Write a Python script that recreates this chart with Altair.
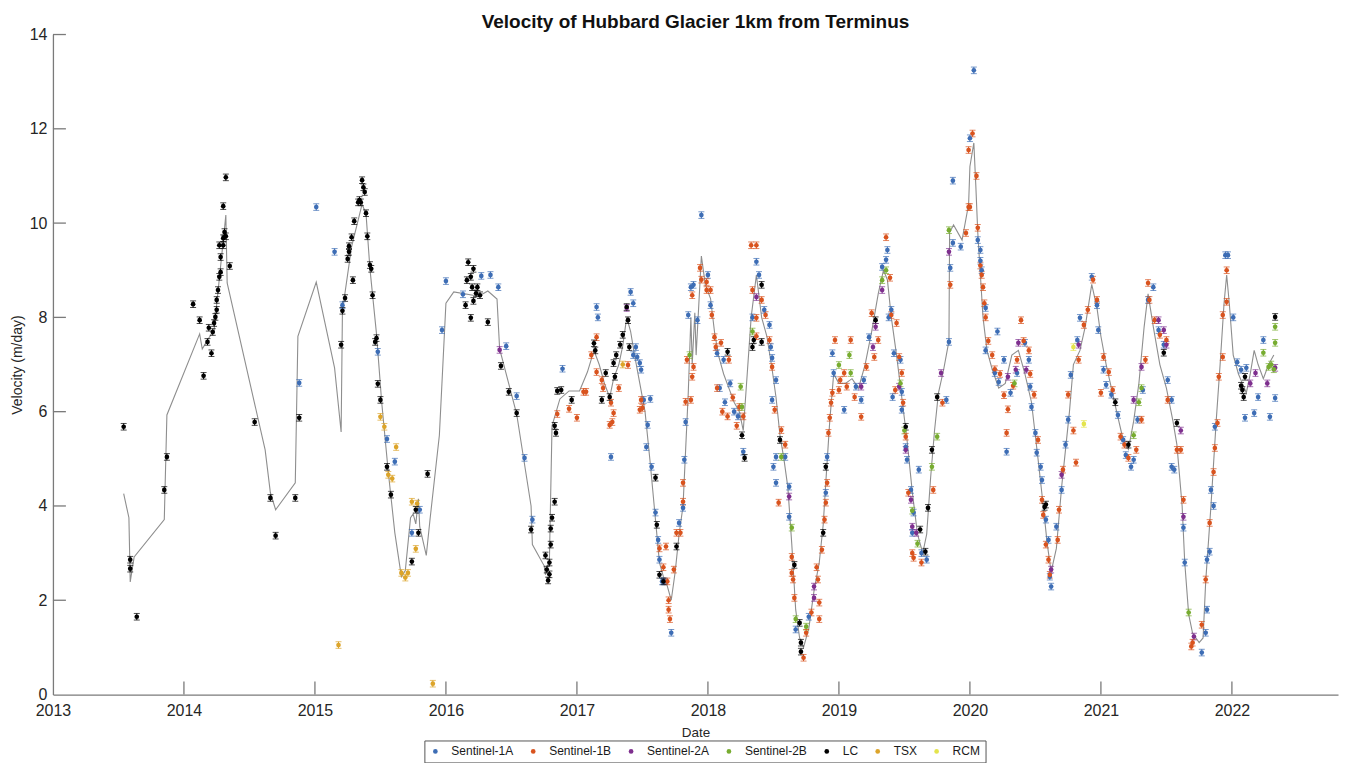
import altair as alt
import pandas as pd

# ---------------- data: (decimal year, velocity m/day) ----------------
SERIES = ["Sentinel-1A", "Sentinel-1B", "Sentinel-2A", "Sentinel-2B", "LC", "TSX", "RCM"]
COLORS = ["#3d6db5", "#d9531e", "#7e2f8e", "#77ac30", "#000000", "#dca42a", "#e4e44c"]
ERR = 0.07  # half-height of the error bars (m/day)

YEARS = list(range(2013, 2023))
Y_TICKS = list(range(0, 15, 2))

lc = [
    (2013.54, 5.68), (2013.59, 2.86), (2013.59, 2.67), (2013.64, 1.65), (2013.85, 4.34), (2013.87, 5.04),
    (2014.07, 8.28), (2014.12, 7.94), (2014.15, 6.76), (2014.18, 7.48), (2014.19, 7.78), (2014.21, 7.24),
    (2014.22, 7.69), (2014.23, 7.88), (2014.24, 8.01), (2014.25, 8.16), (2014.25, 8.37), (2014.26, 8.58),
    (2014.27, 8.86), (2014.28, 8.96), (2014.28, 9.28), (2014.27, 9.53), (2014.30, 9.53), (2014.30, 9.68),
    (2014.31, 9.81), (2014.32, 9.72), (2014.30, 10.36), (2014.32, 10.97), (2014.35, 9.09),
    (2014.54, 5.78), (2014.66, 4.17), (2014.70, 3.37), (2014.85, 4.17), (2014.88, 5.87),
    (2015.20, 7.42), (2015.21, 8.14), (2015.23, 8.41), (2015.25, 9.24), (2015.26, 9.39), (2015.26, 9.51),
    (2015.28, 9.70), (2015.29, 8.79), (2015.30, 10.04), (2015.33, 10.44), (2015.34, 10.49), (2015.36, 10.91),
    (2015.37, 10.76), (2015.38, 10.66), (2015.35, 10.44), (2015.39, 10.21), (2015.40, 9.72), (2015.42, 9.11),
    (2015.43, 9.03), (2015.44, 8.47), (2015.47, 7.56), (2015.46, 7.48), (2015.48, 6.59), (2015.50, 6.25),
    (2015.55, 4.83), (2015.58, 4.24), (2015.74, 2.82), (2015.77, 3.92), (2015.79, 3.43), (2015.86, 4.68),
    (2016.15, 8.26), (2016.16, 8.79), (2016.17, 9.17), (2016.19, 8.86), (2016.19, 7.99), (2016.20, 8.64),
    (2016.21, 9.03), (2016.21, 8.35), (2016.23, 8.51), (2016.24, 8.64), (2016.26, 8.47), (2016.32, 7.90),
    (2016.42, 6.97), (2016.48, 6.42), (2016.54, 5.97), (2016.65, 3.50),
    (2016.76, 2.95), (2016.77, 2.65), (2016.78, 2.42), (2016.79, 2.55), (2016.79, 2.80), (2016.80, 3.18),
    (2016.80, 3.52), (2016.81, 3.75), (2016.83, 4.09), (2016.83, 5.70), (2016.84, 5.55), (2016.85, 6.44),
    (2016.88, 6.46), (2016.96, 6.25),
    (2017.13, 7.45), (2017.14, 7.30), (2017.19, 6.25), (2017.22, 6.82), (2017.25, 6.31), (2017.28, 7.03),
    (2017.29, 6.74), (2017.30, 7.20), (2017.33, 7.42), (2017.35, 7.63), (2017.38, 8.22), (2017.39, 7.94),
    (2017.40, 7.37), (2017.60, 4.60), (2017.61, 3.60), (2017.63, 2.54), (2017.66, 2.40), (2017.76, 3.14),
    (2018.15, 7.27), (2018.26, 5.50), (2018.28, 5.02), (2018.34, 7.37), (2018.35, 7.52), (2018.41, 8.69),
    (2018.41, 7.48), (2018.55, 5.40), (2018.66, 2.75), (2018.70, 1.52), (2018.71, 1.10), (2018.71, 0.91),
    (2018.88, 3.43), (2018.90, 4.83),
    (2019.28, 7.94), (2019.51, 5.68), (2019.62, 3.50), (2019.66, 3.03), (2019.68, 3.96), (2019.71, 5.19),
    (2019.75, 6.31),
    (2020.57, 3.98), (2020.58, 4.03),
    (2021.11, 6.20), (2021.21, 5.30), (2021.48, 7.25), (2021.58, 5.76),
    (2022.07, 6.55), (2022.08, 6.46), (2022.09, 6.31), (2022.10, 6.74), (2022.33, 8.01),
]

tsx = [
    (2015.18, 1.05), (2015.50, 5.89), (2015.53, 5.68), (2015.56, 4.66), (2015.59, 4.58), (2015.62, 5.25),
    (2015.66, 2.58), (2015.69, 2.48), (2015.71, 2.58), (2015.74, 4.09), (2015.77, 3.09), (2015.78, 4.05),
    (2015.90, 0.23), (2017.35, 7.00),
]

rcm = [(2020.79, 7.37), (2020.87, 5.74)]

s1a = [
    (2014.88, 6.61), (2015.01, 10.34), (2015.15, 9.39), (2015.21, 8.26), (2015.48, 7.27), (2015.55, 5.42),
    (2015.61, 4.94), (2015.74, 3.43), (2015.80, 3.92), (2015.97, 7.73), (2016.00, 8.77), (2016.13, 8.49),
    (2016.27, 8.88), (2016.34, 8.90), (2016.40, 8.64), (2016.46, 7.39), (2016.54, 6.33), (2016.60, 5.02),
    (2016.66, 3.71), (2016.89, 6.91),
    (2017.15, 8.22), (2017.16, 8.00), (2017.26, 5.04), (2017.41, 8.54), (2017.43, 8.30), (2017.43, 7.20),
    (2017.45, 7.37), (2017.46, 7.16), (2017.48, 7.03), (2017.49, 6.89), (2017.51, 6.25), (2017.53, 5.25),
    (2017.54, 5.72), (2017.56, 6.27), (2017.57, 4.83), (2017.60, 3.86), (2017.62, 3.28), (2017.63, 2.86),
    (2017.65, 2.40), (2017.67, 2.40), (2017.72, 1.31), (2017.78, 3.64), (2017.81, 3.96), (2017.82, 4.98),
    (2017.83, 5.78), (2017.85, 8.05), (2017.87, 8.64), (2017.89, 8.69), (2017.92, 7.94), (2017.95, 10.17),
    (2018.00, 8.90), (2018.02, 8.26), (2018.07, 7.24), (2018.09, 6.50), (2018.12, 7.10), (2018.13, 6.20),
    (2018.17, 6.60), (2018.20, 6.00), (2018.23, 5.90), (2018.27, 5.15),
    (2018.34, 8.00), (2018.37, 9.18), (2018.39, 8.90), (2018.43, 8.16), (2018.47, 7.84), (2018.48, 7.37),
    (2018.49, 7.14), (2018.49, 6.25), (2018.52, 6.67), (2018.52, 5.04), (2018.59, 5.04), (2018.50, 4.83),
    (2018.52, 4.49), (2018.62, 4.41), (2018.62, 3.77), (2018.67, 1.38), (2018.77, 1.65), (2018.90, 4.28),
    (2018.91, 5.04), (2018.96, 6.82), (2018.95, 7.24), (2019.04, 6.04), (2019.13, 6.53), (2019.17, 6.25),
    (2019.19, 6.67), (2019.23, 7.58), (2019.33, 9.07), (2019.37, 9.43), (2019.36, 9.22), (2019.38, 8.00),
    (2019.40, 8.16), (2019.42, 7.24), (2019.41, 6.31), (2019.47, 7.10), (2019.48, 6.04), (2019.48, 6.42),
    (2019.52, 4.98), (2019.51, 5.25), (2019.55, 4.34), (2019.57, 3.86), (2019.56, 3.43), (2019.61, 4.77),
    (2019.63, 3.00), (2019.67, 2.86), (2019.82, 6.25), (2019.84, 7.48), (2019.85, 9.05), (2019.87, 9.58),
    (2019.87, 10.90), (2019.93, 9.50),
    (2020.00, 11.80), (2020.03, 13.24), (2020.06, 9.64), (2020.08, 9.43), (2020.09, 9.00), (2020.08, 9.20),
    (2020.12, 8.20), (2020.12, 7.30), (2020.19, 6.82), (2020.21, 7.70), (2020.22, 6.63), (2020.26, 7.10),
    (2020.28, 5.15), (2020.31, 6.40), (2020.36, 6.82), (2020.42, 7.46), (2020.45, 7.10), (2020.46, 6.53),
    (2020.47, 6.10), (2020.50, 5.55), (2020.51, 5.13), (2020.54, 4.83), (2020.55, 4.55), (2020.58, 3.71),
    (2020.60, 3.28), (2020.61, 2.50), (2020.62, 2.29),
    (2020.66, 3.56), (2020.70, 4.34), (2020.73, 5.30), (2020.75, 5.83), (2020.77, 6.78), (2020.82, 7.52),
    (2020.84, 7.99), (2020.93, 8.86), (2020.97, 8.26), (2020.98, 7.73), (2021.02, 6.89), (2021.04, 6.57),
    (2021.08, 6.36), (2021.13, 5.93), (2021.17, 5.40), (2021.19, 5.08), (2021.23, 4.83), (2021.25, 4.98),
    (2021.28, 5.83), (2021.32, 6.46), (2021.36, 8.37), (2021.40, 8.64), (2021.44, 7.73), (2021.48, 7.42),
    (2021.51, 6.67), (2021.54, 6.25), (2021.54, 4.83), (2021.56, 4.77), (2021.63, 3.54), (2021.64, 2.80),
    (2021.77, 0.89), (2021.80, 1.31), (2021.81, 1.80), (2021.81, 2.86), (2021.83, 3.03), (2021.84, 4.34),
    (2021.86, 4.00), (2021.87, 5.68), (2021.95, 9.32), (2021.97, 9.32), (2022.01, 8.00), (2022.04, 7.05),
    (2022.07, 6.89), (2022.10, 5.87), (2022.11, 6.93), (2022.17, 5.97), (2022.20, 6.31), (2022.24, 7.52),
    (2022.29, 5.89), (2022.33, 6.29),
]

s1b = [
    (2016.85, 5.95), (2016.94, 6.06), (2017.00, 5.87), (2017.05, 6.42), (2017.07, 6.42), (2017.11, 7.20),
    (2017.15, 7.58), (2017.15, 6.84), (2017.19, 6.67), (2017.20, 6.50), (2017.25, 5.72), (2017.26, 6.19),
    (2017.27, 5.78), (2017.28, 5.97), (2017.32, 6.50), (2017.39, 6.99), (2017.48, 6.04), (2017.49, 6.25),
    (2017.50, 6.08), (2017.63, 3.10), (2017.66, 2.70), (2017.68, 3.14), (2017.69, 2.40), (2017.70, 2.00),
    (2017.70, 1.80), (2017.71, 1.60), (2017.74, 2.65), (2017.76, 3.43), (2017.79, 3.43), (2017.81, 4.09),
    (2017.81, 4.49), (2017.83, 6.21), (2017.84, 7.10), (2017.87, 6.25), (2017.88, 6.74), (2017.88, 8.47),
    (2017.89, 6.95), (2017.94, 9.05), (2017.95, 8.80), (2017.99, 8.75), (2017.99, 8.58), (2018.02, 8.58),
    (2018.03, 8.05), (2018.05, 7.58), (2018.06, 7.37), (2018.07, 6.50), (2018.10, 7.46), (2018.11, 6.00),
    (2018.15, 5.90), (2018.16, 7.10), (2018.19, 6.30), (2018.22, 5.70), (2018.24, 6.10), (2018.27, 5.90),
    (2018.33, 9.53),
    (2018.37, 9.53), (2018.34, 8.58), (2018.37, 7.99), (2018.37, 7.60), (2018.41, 8.37), (2018.44, 8.05),
    (2018.47, 7.52), (2018.49, 6.95), (2018.51, 6.04), (2018.54, 4.07), (2018.56, 5.61), (2018.59, 5.30),
    (2018.64, 2.92), (2018.64, 2.58), (2018.65, 2.44), (2018.66, 2.05), (2018.73, 0.78), (2018.75, 1.31),
    (2018.79, 1.74), (2018.83, 2.70), (2018.84, 2.44), (2018.85, 1.95), (2018.85, 1.60), (2018.87, 3.07),
    (2018.89, 3.71), (2018.90, 4.07), (2018.91, 4.49), (2018.92, 5.55), (2018.93, 5.87), (2018.94, 6.19),
    (2018.95, 6.40), (2018.97, 7.52), (2019.00, 6.46), (2019.01, 6.67), (2019.04, 6.82), (2019.06, 6.53),
    (2019.09, 7.52), (2019.12, 6.31), (2019.17, 5.89), (2019.21, 6.95), (2019.25, 8.09), (2019.27, 7.16),
    (2019.30, 7.52),
    (2019.36, 9.70), (2019.39, 8.84), (2019.40, 8.05), (2019.43, 6.46), (2019.44, 7.88), (2019.46, 7.16),
    (2019.48, 6.82), (2019.49, 6.19), (2019.51, 5.47), (2019.53, 4.28), (2019.56, 3.00), (2019.57, 2.90),
    (2019.63, 2.80), (2019.72, 4.34), (2019.79, 6.19), (2019.85, 8.69), (2019.97, 9.79), (2019.99, 10.34),
    (2019.99, 11.55), (2020.00, 10.34), (2020.02, 11.90), (2020.05, 11.00), (2020.06, 9.90), (2020.08, 9.10),
    (2020.09, 8.90), (2020.10, 8.64), (2020.11, 8.30), (2020.12, 8.00), (2020.14, 7.50), (2020.17, 7.20),
    (2020.19, 6.90), (2020.23, 6.80), (2020.26, 6.35), (2020.28, 5.55), (2020.29, 6.05), (2020.33, 6.55),
    (2020.36, 7.10), (2020.39, 7.94), (2020.41, 7.50), (2020.45, 7.30), (2020.46, 6.80), (2020.49, 6.36),
    (2020.52, 5.40), (2020.55, 4.13), (2020.56, 3.81), (2020.58, 3.18), (2020.60, 2.86), (2020.61, 2.54),
    (2020.67, 3.28), (2020.68, 3.92), (2020.71, 4.77), (2020.75, 6.36), (2020.79, 5.60), (2020.81, 4.92),
    (2020.83, 7.10), (2020.87, 7.84), (2020.90, 8.16), (2020.94, 8.80), (2020.97, 8.37), (2021.00, 6.40),
    (2021.02, 7.16), (2021.06, 6.84), (2021.09, 6.46), (2021.15, 5.47), (2021.18, 5.30), (2021.21, 5.02),
    (2021.27, 5.19), (2021.31, 5.83), (2021.34, 7.10), (2021.36, 8.73), (2021.37, 8.37), (2021.41, 7.94),
    (2021.45, 7.63), (2021.50, 7.52), (2021.51, 6.25), (2021.58, 5.19), (2021.61, 5.19), (2021.63, 4.13),
    (2021.69, 1.02), (2021.70, 1.10),
    (2021.77, 1.48), (2021.80, 2.44), (2021.83, 3.64), (2021.86, 4.72), (2021.87, 5.23), (2021.89, 5.76),
    (2021.90, 6.74), (2021.93, 7.16), (2021.93, 8.05), (2021.96, 8.33), (2021.96, 9.00),
]

s2a = [
    (2016.41, 7.31), (2017.38, 8.20), (2018.37, 8.43), (2018.62, 4.20), (2018.81, 2.05), (2018.81, 2.29),
    (2019.17, 6.53), (2019.26, 7.37), (2019.28, 7.80), (2019.33, 8.58), (2019.46, 6.53), (2019.51, 5.19),
    (2019.55, 4.13), (2019.56, 3.56), (2019.59, 3.43), (2019.78, 6.82), (2019.84, 9.39), (2020.29, 6.74),
    (2020.35, 6.89), (2020.37, 7.46), (2020.43, 6.89), (2020.62, 2.65), (2020.70, 4.66), (2020.83, 7.42),
    (2021.25, 6.25), (2021.31, 6.95), (2021.44, 7.94), (2021.48, 7.73), (2021.50, 7.42), (2021.61, 5.60),
    (2021.63, 3.77), (2021.71, 1.23), (2022.14, 6.60), (2022.18, 6.82), (2022.27, 6.60), (2022.33, 6.93),
]

s2b = [
    (2017.86, 7.20), (2018.25, 6.53), (2018.26, 6.10), (2018.34, 7.70), (2018.56, 5.04), (2018.64, 3.54),
    (2018.67, 1.60), (2018.75, 1.44), (2019.00, 6.99), (2019.08, 7.20), (2019.09, 6.82), (2019.33, 8.79),
    (2019.36, 9.00), (2019.47, 6.60), (2019.50, 5.60), (2019.56, 3.90), (2019.60, 3.20), (2019.71, 4.83),
    (2019.75, 5.47), (2019.84, 9.85), (2020.34, 6.60), (2021.25, 5.50), (2021.29, 6.20), (2021.31, 6.50),
    (2021.67, 1.74), (2022.24, 7.25), (2022.28, 6.95), (2022.30, 7.00), (2022.32, 6.90), (2022.33, 7.46),
    (2022.33, 7.80),
]

trend = [
    (2013.54, 4.26), (2013.58, 3.75), (2013.59, 2.39), (2013.62, 2.92), (2013.85, 3.71), (2013.87, 5.93),
    (2014.12, 7.65), (2014.14, 7.33), (2014.18, 7.52), (2014.23, 7.73), (2014.32, 10.17), (2014.33, 8.73),
    (2014.62, 5.19), (2014.66, 4.28), (2014.70, 3.92), (2014.85, 4.49), (2014.87, 7.60), (2015.01, 8.75),
    (2015.15, 6.93), (2015.20, 5.57), (2015.21, 8.14), (2015.28, 9.50), (2015.36, 10.40), (2015.39, 10.20),
    (2015.42, 9.03), (2015.47, 7.65), (2015.51, 6.19), (2015.56, 4.72), (2015.61, 3.43), (2015.66, 2.50),
    (2015.69, 2.63), (2015.73, 3.75), (2015.75, 3.83), (2015.77, 3.62), (2015.79, 4.15), (2015.80, 3.56),
    (2015.85, 2.95), (2015.88, 3.75), (2015.95, 5.50), (2016.00, 8.30), (2016.06, 8.54), (2016.25, 8.45),
    (2016.32, 8.56), (2016.39, 8.39), (2016.41, 7.33), (2016.48, 6.59), (2016.54, 5.95), (2016.65, 4.00),
    (2016.66, 3.18), (2016.75, 2.73), (2016.76, 2.54), (2016.79, 2.86), (2016.81, 5.70), (2016.87, 6.27),
    (2016.94, 6.44), (2017.02, 6.44), (2017.08, 6.84), (2017.13, 7.30), (2017.17, 7.00), (2017.21, 6.60),
    (2017.25, 6.30), (2017.28, 6.70), (2017.32, 7.00), (2017.35, 7.40), (2017.38, 8.00), (2017.41, 7.70),
    (2017.44, 7.20), (2017.48, 6.60), (2017.52, 6.00), (2017.56, 4.90), (2017.60, 3.70), (2017.63, 2.80),
    (2017.66, 2.50), (2017.69, 2.30), (2017.72, 2.00), (2017.75, 2.60), (2017.78, 3.40), (2017.81, 4.00),
    (2017.83, 5.20), (2017.85, 6.40), (2017.86, 7.20), (2017.87, 8.00), (2017.88, 7.00), (2017.90, 8.10),
    (2017.91, 7.20), (2017.95, 9.30), (2017.98, 8.70), (2018.02, 8.40), (2018.05, 7.70), (2018.08, 7.20),
    (2018.12, 6.80), (2018.16, 6.50), (2018.20, 6.20), (2018.24, 6.00), (2018.27, 5.60), (2018.30, 6.80),
    (2018.33, 8.00), (2018.37, 8.90), (2018.41, 8.00), (2018.45, 7.60), (2018.49, 6.90), (2018.52, 6.30),
    (2018.55, 5.50), (2018.58, 5.00), (2018.61, 4.40), (2018.64, 3.20), (2018.67, 1.80), (2018.70, 1.20),
    (2018.73, 1.00), (2018.77, 1.40), (2018.81, 2.20), (2018.85, 2.80), (2018.88, 3.60), (2018.90, 4.50),
    (2018.93, 5.80), (2018.96, 6.80), (2019.00, 6.60), (2019.05, 6.60), (2019.10, 6.70), (2019.15, 6.50),
    (2019.20, 7.00), (2019.25, 7.70), (2019.30, 8.50), (2019.34, 9.00), (2019.37, 8.80), (2019.40, 8.00),
    (2019.44, 7.20), (2019.48, 6.30), (2019.52, 5.40), (2019.56, 4.30), (2019.60, 3.40), (2019.64, 3.00),
    (2019.67, 3.40), (2019.70, 4.60), (2019.73, 5.60), (2019.76, 6.40), (2019.80, 6.90), (2019.84, 7.50),
    (2019.845, 9.80), (2019.875, 9.96), (2019.94, 9.64), (2019.99, 10.40), (2020.00, 11.20), (2020.03, 11.70),
    (2020.045, 10.80), (2020.06, 9.80), (2020.08, 8.90), (2020.10, 8.00), (2020.13, 7.30), (2020.17, 6.90),
    (2020.22, 6.50), (2020.27, 6.60), (2020.32, 7.20), (2020.37, 7.30), (2020.42, 6.80), (2020.47, 6.20),
    (2020.52, 5.00), (2020.56, 4.00), (2020.59, 3.20), (2020.62, 2.60), (2020.66, 3.10), (2020.70, 4.40),
    (2020.73, 5.20), (2020.76, 6.00), (2020.79, 7.00), (2020.84, 7.30), (2020.88, 7.80), (2020.93, 8.70),
    (2020.97, 8.20), (2021.00, 7.60), (2021.04, 7.00), (2021.08, 6.50), (2021.12, 6.00), (2021.17, 5.40),
    (2021.21, 5.20), (2021.25, 5.80), (2021.29, 6.60), (2021.33, 7.80), (2021.36, 8.50), (2021.40, 7.80),
    (2021.45, 7.00), (2021.50, 6.50), (2021.55, 5.80), (2021.58, 5.30), (2021.62, 4.00), (2021.64, 2.80),
    (2021.67, 1.70), (2021.70, 1.30), (2021.75, 1.10), (2021.78, 1.20), (2021.80, 2.40), (2021.84, 4.00),
    (2021.88, 5.80), (2021.91, 7.00), (2021.94, 8.30), (2021.96, 8.90), (2021.98, 8.30), (2022.01, 7.20),
    (2022.05, 6.80), (2022.08, 6.60), (2022.11, 6.40), (2022.14, 6.80), (2022.17, 7.30), (2022.20, 7.00),
    (2022.24, 6.70), (2022.28, 7.00), (2022.32, 7.20),
]

# ---------------- tables ----------------
rows = []
for name, pts in zip(SERIES, [s1a, s1b, s2a, s2b, lc, tsx, rcm]):
    for t, v in pts:
        rows.append({"sensor": name, "t": t, "v": v, "lo": v - ERR, "hi": v + ERR})
df = pd.DataFrame(rows)
line_df = pd.DataFrame(trend, columns=["t", "v"])
xt_df = pd.DataFrame({"t": YEARS[1:]})
yt_df = pd.DataFrame({"v": Y_TICKS[1:]})

# ---------------- chart ----------------
W, H = 1287, 661
FONT = "Liberation Sans"
AX = "#7a7a7a"
TXT = "#262626"

xs = alt.Scale(domain=[2013, 2022.81], nice=False, zero=False)
ys = alt.Scale(domain=[0, 14], nice=False)
cscale = alt.Scale(domain=SERIES, range=COLORS)

x_axis = alt.Axis(values=YEARS, format="d", title="Date", ticks=False, grid=False,
                  labelPadding=8, labelFontSize=16, titleFontSize=13.5, titlePadding=7,
                  domainColor=AX, domainWidth=1.3, labelColor=TXT, titleColor=TXT,
                  titleFontWeight="normal", labelFlush=False, labelFont=FONT, titleFont=FONT)
y_axis = alt.Axis(values=Y_TICKS, title="Velocity (m/day)", ticks=False, grid=False,
                  labelPadding=6, labelFontSize=16, titleFontSize=14, titlePadding=5,
                  domainColor=AX, domainWidth=1.3, labelColor=TXT, titleColor=TXT,
                  titleFontWeight="normal", labelFont=FONT, titleFont=FONT)

legend = alt.Legend(title=None, orient="none", legendX=372, legendY=707, direction="horizontal",
                    columns=7, symbolType="circle", symbolSize=22, symbolStrokeWidth=0,
                    symbolOpacity=1, labelFontSize=12, labelFont=FONT,
                    labelColor="#1a1a1a", columnPadding=13, labelOffset=10, padding=5,
                    strokeColor="#555555", fillColor="white")

points = alt.Chart(df).mark_circle(size=22, opacity=1).encode(
    x=alt.X("t:Q", scale=xs, axis=x_axis), y=alt.Y("v:Q", scale=ys, axis=y_axis),
    color=alt.Color("sensor:N", scale=cscale, sort=SERIES, legend=legend))

trend_line = alt.Chart(line_df).mark_line(color="#8e8e8e", strokeWidth=1.1).encode(
    x=alt.X("t:Q", scale=xs, axis=None), y=alt.Y("v:Q", scale=ys, axis=None))

err = alt.Chart(df).mark_rule(strokeWidth=1).encode(
    x=alt.X("t:Q", scale=xs, axis=None), y=alt.Y("lo:Q", scale=ys, axis=None), y2="hi:Q",
    color=alt.Color("sensor:N", scale=cscale, legend=None))
cap_lo = alt.Chart(df).mark_tick(orient="horizontal", size=6, thickness=1).encode(
    x=alt.X("t:Q", scale=xs, axis=None), y=alt.Y("lo:Q", scale=ys, axis=None),
    color=alt.Color("sensor:N", scale=cscale, legend=None))
cap_hi = alt.Chart(df).mark_tick(orient="horizontal", size=6, thickness=1).encode(
    x=alt.X("t:Q", scale=xs, axis=None), y=alt.Y("hi:Q", scale=ys, axis=None),
    color=alt.Color("sensor:N", scale=cscale, legend=None))

y_ticks = alt.Chart(yt_df).mark_rule(color=AX, strokeWidth=1.3).encode(
    y=alt.Y("v:Q", scale=ys, axis=None), x=alt.value(0), x2=alt.value(13))
x_ticks = alt.Chart(xt_df).mark_rule(color=AX, strokeWidth=1.3).encode(
    x=alt.X("t:Q", scale=xs, axis=None), y=alt.value(H), y2=alt.value(H - 13))

chart = alt.layer(trend_line, err, cap_lo, cap_hi, points, y_ticks, x_ticks).resolve_axis(
    x="independent", y="independent"
).resolve_legend(color="independent").properties(
    width=W, height=H,
    title=alt.TitleParams("Velocity of Hubbard Glacier 1km from Terminus", font=FONT, fontSize=19,
                          fontWeight="bold", color="#111111", anchor="middle", offset=-5),
    autosize=alt.AutoSizeParams(type="none"),
    padding={"left": 45, "top": 26, "right": 10, "bottom": 68},
).configure(background="white", font=FONT).configure_view(stroke=None)

chart.save("out.html", embed_options={"renderer": "svg", "actions": False})
